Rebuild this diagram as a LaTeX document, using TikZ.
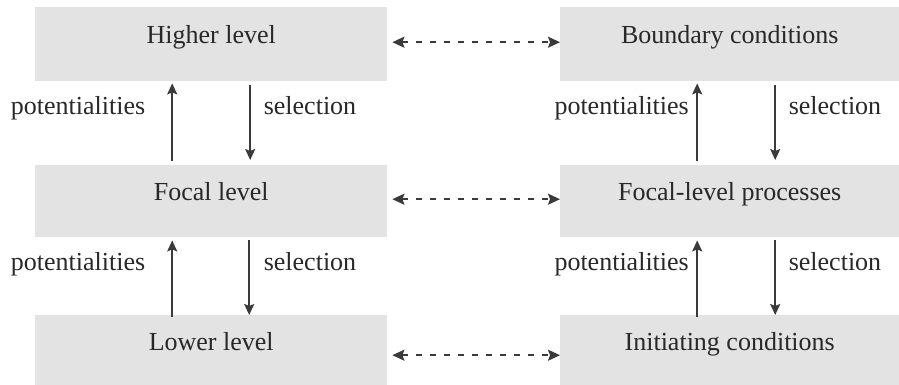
\documentclass[tikz,border=0pt]{standalone}
\usepackage{fontspec}
\setmainfont{Liberation Serif}
\usetikzlibrary{arrows.meta}
\definecolor{boxgray}{RGB}{227,227,227}
\definecolor{ink}{RGB}{58,58,58}
\definecolor{txt}{RGB}{40,40,40}
\tikzset{
  levelbox/.style={fill=boxgray, draw=none, inner sep=0pt, anchor=north west},
  lbl/.style={text=txt, font=\fontsize{26}{31}\selectfont, inner sep=0pt, text height=17pt, text depth=5pt},
  arr/.style={draw=ink, line width=1.7pt, -{Stealth[length=11pt,width=10pt,inset=2pt]}},
  darr/.style={draw=ink, line width=1.9pt, dash pattern=on 6pt off 8pt,
    {Stealth[length=12pt,width=11pt,inset=2pt]}-{Stealth[length=12pt,width=11pt,inset=2pt]}}
}
\begin{document}
\begin{tikzpicture}[x=1pt,y=-1pt]
\useasboundingbox (0,0) rectangle (899,385);
% boxes
\node[levelbox, minimum width=352pt, minimum height=74pt] (L1) at (35,7) {};
\node[levelbox, minimum width=352pt, minimum height=72pt] (L2) at (35,165) {};
\node[levelbox, minimum width=352pt, minimum height=70pt] (L3) at (35,315) {};
\node[levelbox, minimum width=339pt, minimum height=74pt] (R1) at (560,7) {};
\node[levelbox, minimum width=339pt, minimum height=72pt] (R2) at (560,165) {};
\node[levelbox, minimum width=339pt, minimum height=70pt] (R3) at (560,315) {};
% box texts
\node[lbl] (tL1) at ([yshift=7pt]L1.center) {Higher level};
\node[lbl] (tL2) at ([yshift=7pt]L2.center) {Focal level};
\node[lbl] (tL3) at ([yshift=6pt]L3.center) {Lower level};
\node[lbl] (tR1) at ([yshift=7pt]R1.center) {Boundary conditions};
\node[lbl] (tR2) at ([yshift=7pt]R2.center) {Focal-level processes};
\node[lbl] (tR3) at ([yshift=6pt]R3.center) {Initiating conditions};
% vertical arrows, left column
\draw[arr] ([xshift=-39pt,yshift=4pt]L2.north) -- ([xshift=-39pt,yshift=-2pt]L1.south);
\draw[arr] ([xshift=39pt,yshift=-4pt]L1.south) -- ([xshift=39pt,yshift=5pt]L2.north);
\draw[arr] ([xshift=-39pt,yshift=-2pt]L3.north) -- ([xshift=-39pt,yshift=-3pt]L2.south);
\draw[arr] ([xshift=38pt,yshift=-3pt]L2.south) -- ([xshift=38pt]L3.north);
% vertical arrows, right column
\draw[arr] ([xshift=-32.5pt,yshift=4pt]R2.north) -- ([xshift=-32.5pt,yshift=-2pt]R1.south);
\draw[arr] ([xshift=45.5pt,yshift=-4pt]R1.south) -- ([xshift=45.5pt,yshift=5pt]R2.north);
\draw[arr] ([xshift=-32.5pt,yshift=-2pt]R3.north) -- ([xshift=-32.5pt,yshift=-3pt]R2.south);
\draw[arr] ([xshift=45.5pt,yshift=-3pt]R2.south) -- ([xshift=45.5pt]R3.north);
% labels
\node[lbl] (p1) at (78,109) {potentialities};
\node[lbl] (s1) at (310,109) {selection};
\node[lbl] (p2) at (78,264) {potentialities};
\node[lbl] (s2) at (310,264) {selection};
\node[lbl, anchor=east] (p3) at (689,109) {potentialities};
\node[lbl] (s3) at (835,109) {selection};
\node[lbl, anchor=east] (p4) at (689,264) {potentialities};
\node[lbl] (s4) at (835,264) {selection};
% dashed double arrows
\draw[darr, shorten <=5pt] ([yshift=2pt]L1.east) -- ([yshift=2pt]R1.west);
\draw[darr, shorten <=5pt] ([yshift=2pt]L2.east) -- ([yshift=2pt]R2.west);
\draw[darr, shorten <=5pt] ([yshift=-5pt]L3.east) -- ([yshift=-5pt]R3.west);
\end{tikzpicture}
\end{document}
